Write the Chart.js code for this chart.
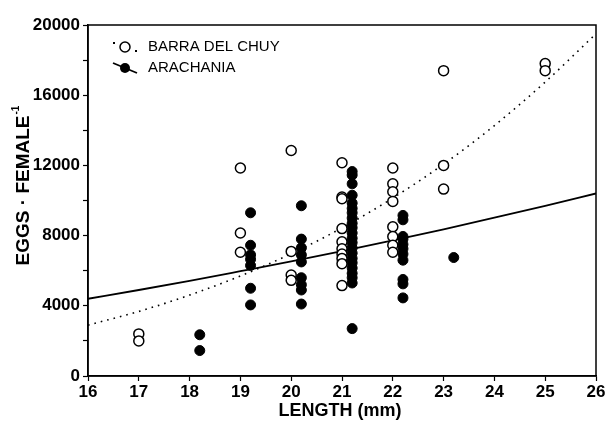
<!DOCTYPE html>
<html>
<head>
<meta charset="utf-8">
<script src="https://cdn.jsdelivr.net/npm/chart.js@4.4.1/dist/chart.umd.min.js"></script>
<style>
  body { margin: 0; background: #fff; }
  #wrap { width: 607px; height: 437px; }
</style>
</head>
<body>
<div id="wrap"><canvas id="myChart" width="607" height="437"></canvas></div>
<script>
// Barra del Chuy (open circles)
const barraLength = [17, 17,
  19, 19, 19,
  20, 20, 20, 20,
  21, 21, 21, 21, 21, 21, 21, 21, 21, 21,
  22, 22, 22, 22, 22, 22, 22, 22,
  23, 23, 23,
  25, 25];
const barraEggs = [2400, 2000,
  11850, 8150, 7050,
  12850, 7100, 5750, 5450,
  12150, 10200, 10100, 8400, 7650, 7250, 6950, 6700, 6400, 5150,
  11850, 10950, 10500, 9950, 8500, 7950, 7450, 7050,
  17400, 12000, 10650,
  17800, 17400];

// Arachania (filled circles)
const arachLength = [18.2, 18.2,
  19.2, 19.2, 19.2, 19.2, 19.2, 19.2, 19.2,
  20.2, 20.2, 20.2, 20.2, 20.2, 20.2, 20.2, 20.2, 20.2,
  21.2, 21.2, 21.2, 21.2, 21.2, 21.2, 21.2, 21.2, 21.2, 21.2, 21.2,
  21.2, 21.2, 21.2, 21.2, 21.2, 21.2, 21.2, 21.2, 21.2, 21.2, 21.2,
  22.2, 22.2, 22.2, 22.2, 22.2, 22.2, 22.2, 22.2, 22.2, 22.2, 22.2,
  23.2];
const arachEggs = [2350, 1450,
  9300, 7450, 6900, 6650, 6300, 5000, 4050,
  9700, 7800, 7300, 6900, 6500, 5600, 5200, 4900, 4100,
  11650, 11450, 10950, 10300, 9850, 9550, 9300, 9000, 8700, 8450, 8150,
  7850, 7600, 7300, 7000, 6700, 6450, 6150, 5850, 5600, 5300, 2700,
  9150, 8900, 7950, 7800, 7500, 7250, 6950, 6600, 5500, 5250, 4450,
  6750];

// fitted curves at each mm
const curveLength = [16, 17, 18, 19, 20, 21, 22, 23, 24, 25, 26];
const barraCurve = [2900, 3680, 4610, 5700, 6970, 8440, 10140, 12070, 14270, 16750, 19500];
const arachCurve = [4400, 4900, 5420, 5970, 6530, 7120, 7730, 8360, 9020, 9700, 10400];

const xTicks = [16, 17, 18, 19, 20, 21, 22, 23, 24, 25, 26];
const yTicks = [0, 4000, 8000, 12000, 16000, 20000];

const FONT = '"Liberation Sans", Arial, sans-serif';

const toPoints = (xs, ys) => xs.map((x, i) => ({ x, y: ys[i] }));

const framePlugin = {
    id: 'frame',
    afterDraw(chart) {
        const { ctx, chartArea: a } = chart;
        ctx.save();
        ctx.strokeStyle = '#000';
        ctx.lineWidth = 1.5;
        ctx.strokeRect(a.left, a.top, a.right - a.left, a.bottom - a.top);

        // legend
        ctx.font = '15px ' + FONT;
        ctx.fillStyle = '#000';
        ctx.textBaseline = 'middle';
        // barra: dotted line + open circle
        let cx = 125, cy = 47;
        ctx.fillRect(cx - 12, cy - 5, 2, 2);
        ctx.fillRect(cx + 10, cy + 3, 2, 2);
        ctx.beginPath();
        ctx.arc(cx, cy, 5, 0, Math.PI * 2);
        ctx.fillStyle = '#fff';
        ctx.fill();
        ctx.lineWidth = 1.5;
        ctx.stroke();
        ctx.fillStyle = '#000';
        ctx.fillText('BARRA DEL CHUY', 148, cy);
        // arachania: solid line + filled circle
        cy = 68;
        ctx.beginPath();
        ctx.moveTo(cx - 12, cy - 5);
        ctx.lineTo(cx + 12, cy + 5);
        ctx.lineWidth = 1.8;
        ctx.stroke();
        ctx.beginPath();
        ctx.arc(cx, cy, 5, 0, Math.PI * 2);
        ctx.fill();
        ctx.fillText('ARACHANIA', 148, cy);

        // axis titles
        ctx.font = 'bold 18px ' + FONT;
        ctx.textAlign = 'center';
        ctx.textBaseline = 'alphabetic';
        ctx.fillText('LENGTH (mm)', (a.left + a.right) / 2 - 2, 416);

        ctx.translate(29, 186);
        ctx.rotate(-Math.PI / 2);
        const main = 'EGGS \u00B7 FEMALE';
        ctx.font = 'bold 19px ' + FONT;
        const w1 = ctx.measureText(main).width;
        ctx.font = 'bold 10px ' + FONT;
        const w2 = ctx.measureText('-1').width;
        const start = -(w1 + w2) / 2;
        ctx.textAlign = 'left';
        ctx.font = 'bold 19px ' + FONT;
        ctx.fillText(main, start, 0);
        ctx.font = 'bold 10px ' + FONT;
        ctx.fillText('-1', start + w1 + 1, -10);
        ctx.restore();
    }
};

const ctx = document.querySelector('#myChart');
const chart = new Chart(ctx, {
    type: 'scatter',
    data: {
        datasets: [
            {
                label: 'BARRA DEL CHUY',
                data: toPoints(barraLength, barraEggs),
                pointRadius: 5,
                pointBackgroundColor: '#fff',
                pointBorderColor: '#000',
                pointBorderWidth: 1.5,
            },
            {
                label: 'ARACHANIA',
                data: toPoints(arachLength, arachEggs),
                pointRadius: 5,
                pointBackgroundColor: '#000',
                pointBorderColor: '#000',
                pointBorderWidth: 1,
            },
            {
                type: 'line',
                label: 'barra fit',
                data: toPoints(curveLength, barraCurve),
                borderColor: '#000',
                borderWidth: 1.6,
                borderDash: [1.6, 5],
                pointRadius: 0,
                cubicInterpolationMode: 'monotone',
                fill: false,
            },
            {
                type: 'line',
                label: 'arachania fit',
                data: toPoints(curveLength, arachCurve),
                borderColor: '#000',
                borderWidth: 1.8,
                pointRadius: 0,
                cubicInterpolationMode: 'monotone',
                fill: false,
            },
        ],
    },
    options: {
        responsive: false,
        animation: false,
        devicePixelRatio: 1,
        layout: { padding: { top: 25, right: 11, left: 0, bottom: 0 } },
        plugins: {
            legend: { display: false },
            tooltip: { enabled: false },
        },
        scales: {
            x: {
                type: 'linear',
                min: 16,
                max: 26,
                afterBuildTicks: (s) => { s.ticks = xTicks.map(v => ({ value: v })); },
                afterFit: (s) => { s.height = 61; },
                grid: { drawOnChartArea: false, tickLength: 5, color: '#000', tickWidth: 1.2 },
                border: { color: '#000', width: 1.5 },
                ticks: {
                    color: '#000',
                    padding: 1,
                    font: { family: FONT, size: 17, weight: 'bold' },
                },
            },
            y: {
                min: 0,
                max: 20000,
                afterBuildTicks: (s) => {
                    const t = [];
                    for (let v = 0; v <= 20000; v += 2000) t.push({ value: v });
                    s.ticks = t;
                },
                afterFit: (s) => { s.width = 88; },
                grid: { drawOnChartArea: false, tickLength: 5, color: '#000', tickWidth: 1.2 },
                border: { color: '#000', width: 1.5 },
                ticks: {
                    color: '#000',
                    padding: 3,
                    font: { family: FONT, size: 17, weight: 'bold' },
                    callback: (v) => yTicks.includes(v) ? String(v) : '',
                },
            },
        },
    },
    plugins: [framePlugin],
});
</script>
</body>
</html>
